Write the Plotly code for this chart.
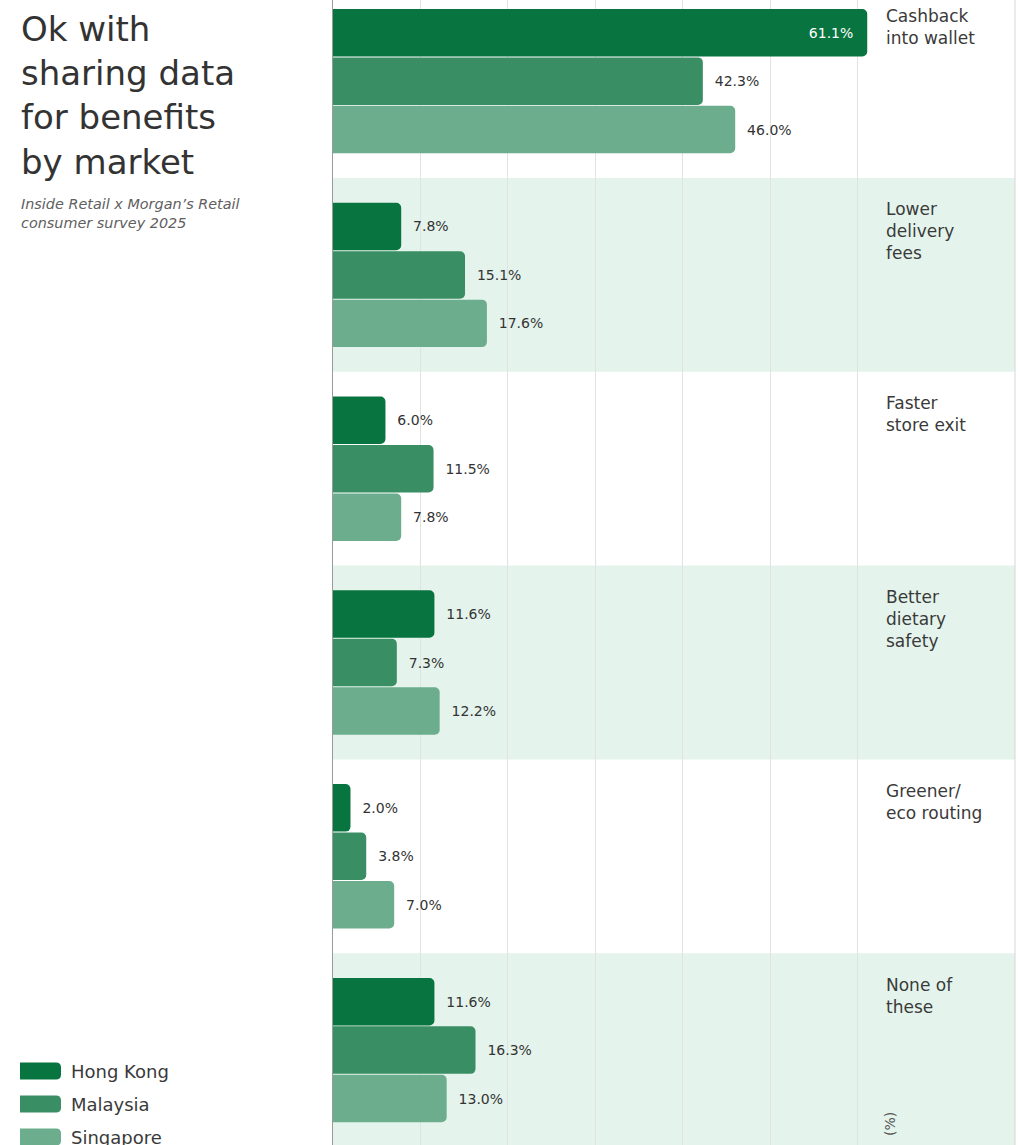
import plotly.graph_objects as go

# ---- data -------------------------------------------------------------
categories = [
    "Cashback<br>into wallet",
    "Lower<br>delivery<br>fees",
    "Faster<br>store exit",
    "Better<br>dietary<br>safety",
    "Greener/<br>eco routing",
    "None of<br>these",
]
markets = ["Hong Kong", "Malaysia", "Singapore"]
hong_kong = [61.1, 7.8, 6.0, 11.6, 2.0, 11.6]
malaysia = [42.3, 15.1, 11.5, 7.3, 3.8, 16.3]
singapore = [46.0, 17.6, 7.8, 12.2, 7.0, 13.0]
grid_ticks = [0, 10, 20, 30, 40, 50, 60]

title_text = "Ok with<br>sharing data<br>for benefits<br>by market"
subtitle_text = "Inside Retail x Morgan’s Retail<br>consumer survey 2025"

# ---- style ------------------------------------------------------------
COLORS = ["#08743f", "#3a8e64", "#6bad8c"]
BAND = "#e4f4ec"
TEXT = "#333333"
FONT = "DejaVu Sans"

W, H = 1020, 1165
ML, MR, MT, MB = 333, 5, 0, 18
PW, PH = W - ML - MR, H - MT - MB


def px(x):
    return (x - ML) / PW


def py(y):
    return 1 - (y - MT) / PH


fig = go.Figure()

positions = list(range(len(categories)))
series = [hong_kong, malaysia, singapore]
for name, vals, col in zip(markets, series, COLORS):
    inside = [v > 55 for v in vals]
    fig.add_trace(go.Bar(
        name=name,
        y=positions,
        x=vals,
        orientation="h",
        marker=dict(color=col, line=dict(width=0)),
        texttemplate=[("%{x:.1f}%\u00a0\u00a0" if i else "\u00a0\u00a0%{x:.1f}%") for i in inside],
        textposition=["inside" if i else "outside" for i in inside],
        insidetextanchor="end",
        insidetextfont=dict(color="white", size=14, family=FONT),
        outsidetextfont=dict(color=TEXT, size=14, family=FONT),
        constraintext="none",
        cliponaxis=False,
        hoverinfo="skip",
        showlegend=False,
    ))

shapes = []
# alternating background bands
for i in positions:
    if i % 2 == 1:
        shapes.append(dict(type="rect", xref="paper", yref="y", x0=0, x1=1,
                           y0=i - 0.5, y1=i + 0.5, fillcolor=BAND,
                           line=dict(width=0), layer="below"))
# right border
shapes.append(dict(type="line", xref="paper", yref="paper", x0=1, x1=1, y0=0, y1=1,
                   line=dict(color="#d6d6d6", width=1)))

annotations = []
# category labels at the top-right of each band
for i, lab in enumerate(categories):
    annotations.append(dict(
        x=63.0, y=i - 0.4, xref="x", yref="y", xanchor="left", yanchor="top",
        yshift=0, text=lab, showarrow=False, align="left",
        font=dict(family=FONT, size=17, color="#3a3a3a"),
    ))

annotations.append(dict(
    x=px(890), y=py(1124), xref="paper", yref="paper", xanchor="center", yanchor="middle",
    text="(%)", textangle=-90, showarrow=False,
    font=dict(family=FONT, size=14, color="#555555"),
))

# title block
annotations.append(dict(
    x=px(19), y=py(96), xref="paper", yref="paper", xanchor="left", yanchor="middle",
    text=title_text, showarrow=False, align="left",
    font=dict(family=FONT, size=34, color=TEXT),
))
annotations.append(dict(
    x=px(19), y=py(214), xref="paper", yref="paper", xanchor="left", yanchor="middle",
    text="<i>" + subtitle_text.replace("<br>", "</i><br><i>") + "</i>", showarrow=False,
    align="left", font=dict(family=FONT, size=14.4, color="#606060"),
))

# legend: rounded swatches + labels
legend_y = [1071, 1104, 1137]
for name, col, yy in zip(markets, COLORS, legend_y):
    x0, x1, y0, y1, r = 20, 61, yy - 8.5, yy + 8.5, 5
    path = (f"M {px(x0)} {py(y0)} L {px(x1 - r)} {py(y0)} "
            f"Q {px(x1)} {py(y0)} {px(x1)} {py(y0 + r)} "
            f"L {px(x1)} {py(y1 - r)} Q {px(x1)} {py(y1)} {px(x1 - r)} {py(y1)} "
            f"L {px(x0)} {py(y1)} Z")
    shapes.append(dict(type="path", xref="paper", yref="paper", path=path,
                       fillcolor=col, line=dict(width=0)))
    annotations.append(dict(
        x=px(69), y=py(yy), xref="paper", yref="paper", xanchor="left", yanchor="middle",
        text=name, showarrow=False, font=dict(family=FONT, size=18, color="#3a3a3a"),
    ))

fig.update_layout(
    width=W, height=H,
    margin=dict(l=ML, r=MR, t=MT, b=MB, pad=0),
    paper_bgcolor="white", plot_bgcolor="white",
    barmode="group", bargap=0.25, bargroupgap=0.02,
    barcornerradius=5,
    shapes=shapes, annotations=annotations,
    font=dict(family=FONT, color=TEXT),
    xaxis=dict(range=[0, 78], tickvals=grid_ticks, showticklabels=False,
               showgrid=True, gridcolor="#e2e2e2", gridwidth=1,
               zeroline=False, showline=False, fixedrange=True),
    yaxis=dict(range=[5.5, -0.4187], showticklabels=False, showgrid=False,
               zeroline=False, showline=True, linecolor="#9a9a9a", linewidth=1,
               ticks="", fixedrange=True),
    showlegend=False,
)

fig.write_html("out.html", config={"displayModeBar": False})
